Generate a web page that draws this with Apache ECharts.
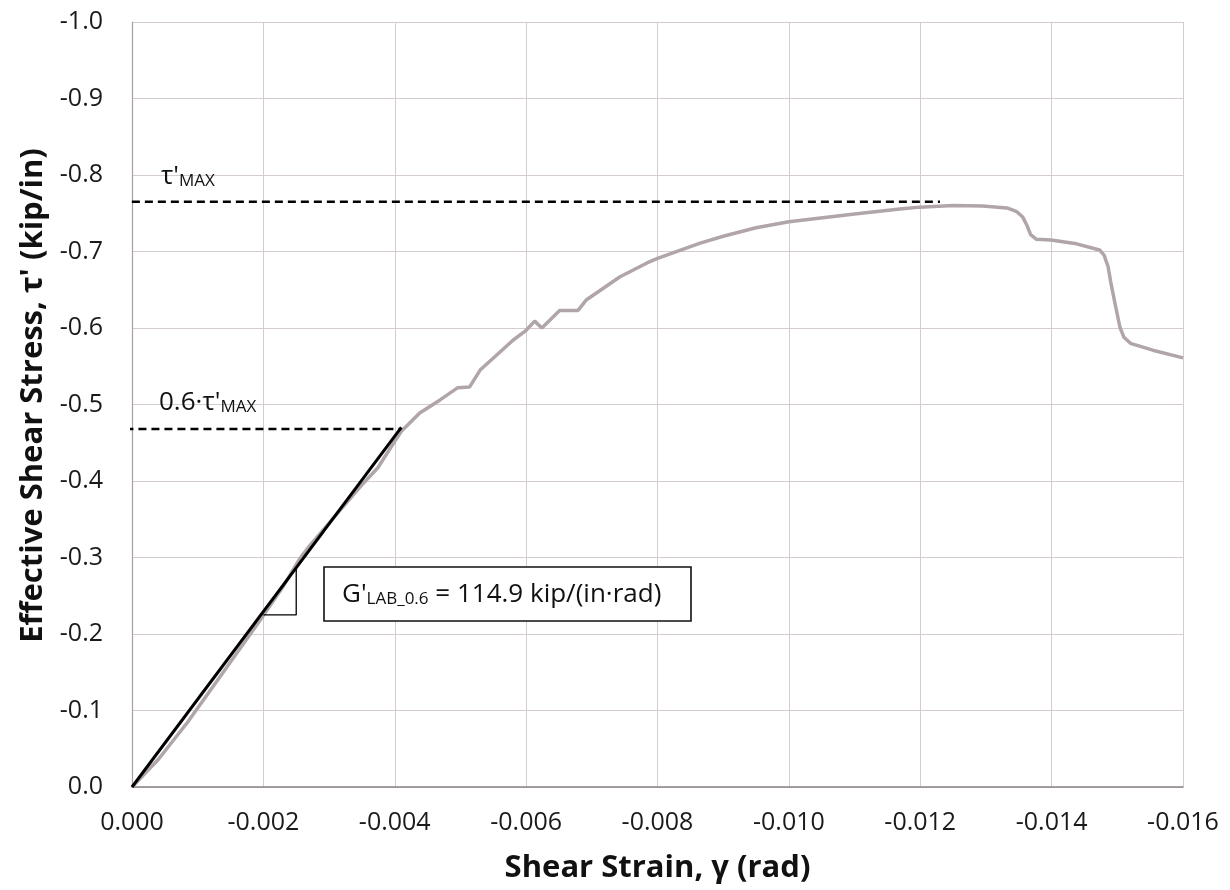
<!DOCTYPE html>
<html>
<head>
<meta charset="utf-8">
<script src="https://cdn.jsdelivr.net/npm/echarts@6/dist/echarts.min.js"></script>
<style>
  html, body { margin: 0; padding: 0; background: #fff; }
  #chart { width: 1230px; height: 890px; }
</style>
</head>
<body>
<div id="chart"></div>
<script>
// measured test curve: [shear strain (rad), effective shear stress (kip/in)]
const testCurve = [
  [0, 0], [-0.0004, -0.036], [-0.00084, -0.084], [-0.00134, -0.144], [-0.00195, -0.218],
  [-0.0023, -0.262], [-0.00255, -0.298], [-0.0027, -0.315], [-0.003, -0.345], [-0.0035, -0.395],
  [-0.00374, -0.417], [-0.004, -0.452], [-0.0041, -0.465], [-0.00438, -0.489], [-0.00469, -0.506],
  [-0.00496, -0.522], [-0.00514, -0.523], [-0.0053, -0.545], [-0.0058, -0.584], [-0.006, -0.597],
  [-0.00613, -0.609], [-0.00624, -0.600], [-0.00651, -0.623], [-0.00679, -0.623], [-0.00692, -0.637],
  [-0.00743, -0.667], [-0.00784, -0.685], [-0.008, -0.691], [-0.00865, -0.711], [-0.009, -0.720],
  [-0.0095, -0.731], [-0.010, -0.739], [-0.011, -0.749], [-0.01169, -0.7556], [-0.01199, -0.758],
  [-0.0125, -0.760], [-0.01295, -0.7595], [-0.01332, -0.757], [-0.01347, -0.752], [-0.01356, -0.745],
  [-0.01362, -0.735], [-0.01368, -0.722], [-0.01377, -0.716], [-0.01399, -0.715], [-0.01438, -0.710],
  [-0.01473, -0.702], [-0.0148, -0.695], [-0.01486, -0.68], [-0.0149, -0.66], [-0.01497, -0.63],
  [-0.01504, -0.601], [-0.0151, -0.588], [-0.0152, -0.580], [-0.01554, -0.571], [-0.016, -0.561]
]
// secant modulus line G'LAB_0.6
const secantLine = [[0, 0], [-0.0041, -0.47]]
// slope triangle
const slopeTriangle = [[-0.002, -0.225], [-0.0025, -0.225], [-0.0025, -0.287]]
// reference levels
const tauMaxLine = [[0.0002, -0.765], [-0.0123, -0.765]]
const tau06Line = [[0.0001, -0.468], [-0.0041, -0.468]]

const xTicks = { min: -0.016, max: 0, step: 0.002 }
const yTicks = { min: -1.0, max: 0, step: 0.1 }

const FONT = 'Open Sans'
const chart = echarts.init(document.getElementById('chart'))

function fmt(v, d) {
  if (Math.abs(v) < 1e-9) return (0).toFixed(d)
  return v.toFixed(d)
}

const richSub = {
  m: { fontFamily: FONT, fontSize: 26, fill: '#111', verticalAlign: 'bottom', lineHeight: 30 },
  s: { fontFamily: FONT, fontSize: 17, fill: '#111', verticalAlign: 'bottom', lineHeight: 14, padding: [10, 0, 0, 0] }
}

chart.setOption({
  backgroundColor: '#ffffff',
  animation: false,
  grid: { left: 132, right: 47, top: 22, bottom: 103, containLabel: false },
  xAxis: {
    type: 'value',
    min: xTicks.min, max: xTicks.max, interval: xTicks.step,
    inverse: true,
    name: 'Shear Strain, γ (rad)',
    nameLocation: 'middle',
    nameGap: 66,
    nameTextStyle: { fontFamily: FONT, fontWeight: 'bold', fontSize: 31, color: '#111' },
    axisLine: { onZero: false, lineStyle: { color: '#8a8486', width: 1.5 } },
    axisTick: { show: false },
    axisLabel: { formatter: v => fmt(v, 3), fontFamily: FONT, fontSize: 25, color: '#1a1a1a', margin: 23 },
    splitLine: { lineStyle: { color: '#d4cccd', width: 1 } }
  },
  yAxis: {
    type: 'value',
    min: yTicks.min, max: yTicks.max, interval: yTicks.step,
    inverse: true,
    name: "Effective Shear Stress, τ' (kip/in)",
    nameLocation: 'middle',
    nameGap: 75,
    nameTextStyle: { fontFamily: FONT, fontWeight: 'bold', fontSize: 31, color: '#111', padding: [0, 0, 0, 18] },
    axisLine: { onZero: false, lineStyle: { color: '#a8a0a2', width: 1.2 } },
    axisTick: { show: false },
    axisLabel: { formatter: v => fmt(v, 1), fontFamily: FONT, fontSize: 25, color: '#1a1a1a', margin: 29 },
    splitLine: { lineStyle: { color: '#d4cccd', width: 1 } }
  },
  series: [
    {
      name: 'test', type: 'line', data: testCurve, symbol: 'none', smooth: false,
      lineStyle: { color: '#b0a5a9', width: 3.5 }, z: 2
    },
    {
      name: 'secant', type: 'line', data: secantLine, symbol: 'none',
      lineStyle: { color: '#000', width: 3 }, z: 3
    },
    {
      name: 'triangle', type: 'line', data: slopeTriangle, symbol: 'none',
      lineStyle: { color: '#000', width: 1.3 }, z: 3
    },
    {
      name: 'tauMax', type: 'line', data: tauMaxLine, symbol: 'none', clip: false,
      lineStyle: { color: '#000', width: 2.5, type: [8, 5] }, z: 4
    },
    {
      name: 'tau06', type: 'line', data: tau06Line, symbol: 'none', clip: false,
      lineStyle: { color: '#000', width: 2.5, type: [8, 5] }, z: 4
    }
  ],
  graphic: [
    {
      type: 'text', left: 161, top: 163, z: 10,
      style: { text: "{m|τ'}{s|MAX}", rich: richSub }
    },
    {
      type: 'text', left: 159, top: 389, z: 10,
      style: { text: "{m|0.6·τ'}{s|MAX}", rich: richSub }
    },
    {
      type: 'rect', z: 9,
      shape: { x: 324, y: 567, width: 367, height: 54 },
      style: { fill: '#fff', stroke: '#111', lineWidth: 1.6 }
    },
    {
      type: 'text', left: 342, top: 581, z: 10,
      style: { text: "{m|G'}{s|LAB_0.6}{m| = 114.9 kip/(in·rad)}", rich: richSub }
    }
  ]
})
</script>
</body>
</html>
